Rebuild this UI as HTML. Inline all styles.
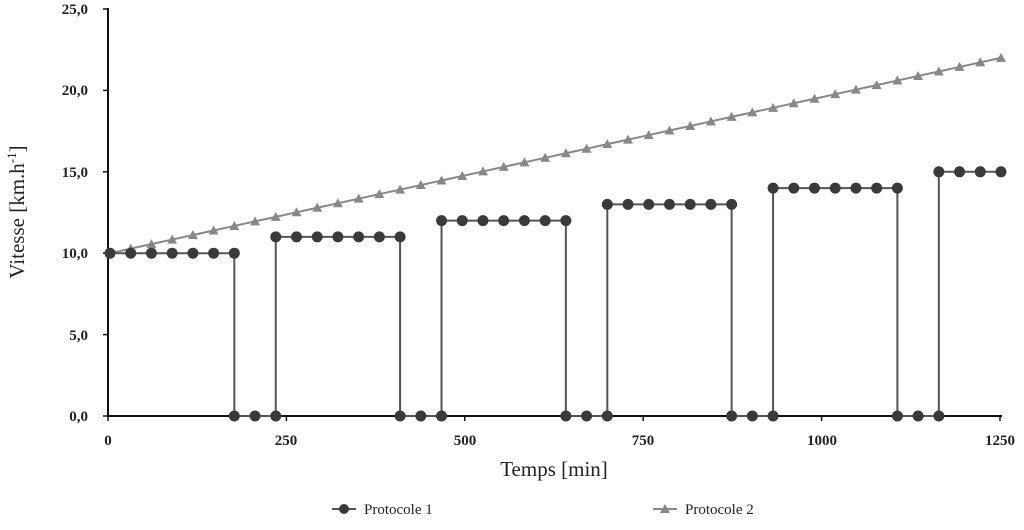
<!DOCTYPE html>
<html><head><meta charset="utf-8"><style>
body{margin:0;background:#fff;}
svg text{font-family:"Liberation Serif",serif;fill:#222;}
</style></head><body>
<svg id="s" width="1024" height="525" xmlns="http://www.w3.org/2000/svg">
<g font-size="15" font-weight="bold" text-anchor="end">
<text x="88" y="421">0,0</text>
<text x="88" y="340">5,0</text>
<text x="88" y="258">10,0</text>
<text x="88" y="177">15,0</text>
<text x="88" y="95">20,0</text>
<text x="88" y="14">25,0</text>
</g>
<g font-size="15" font-weight="bold" text-anchor="middle">
<text x="108" y="445">0</text>
<text x="286" y="445">250</text>
<text x="465" y="445">500</text>
<text x="643" y="445">750</text>
<text x="822" y="445">1000</text>
<text x="1000" y="445">1250</text>
</g>
<text x="554" y="476" font-size="21" text-anchor="middle">Temps [min]</text>
<text transform="translate(24,212) rotate(-90)" font-size="21" text-anchor="middle">Vitesse [km.h<tspan dy="-8" font-size="13">-1</tspan><tspan dy="8">]</tspan></text>
<line x1="108" y1="8" x2="108" y2="416" stroke="#111" stroke-width="2"/>
<line x1="107" y1="416" x2="1002" y2="416" stroke="#111" stroke-width="2"/>
<g id="ticks" stroke="#111" stroke-width="1.5"></g>
<g id="p2"></g>
<g id="p1"></g>
<g font-size="15">
<line x1="332" y1="509" x2="356" y2="509" stroke="#555" stroke-width="2"/>
<circle cx="344" cy="509" r="5" fill="#3a3a3a"/>
<text x="364" y="514">Protocole 1</text>
<line x1="653" y1="509" x2="677" y2="509" stroke="#888" stroke-width="2"/>
<polygon points="665,504 670,513 660,513" fill="#888"/>
<text x="685" y="514">Protocole 2</text>
</g>
</svg>
<script>
var NS="http://www.w3.org/2000/svg";
function el(p,t,a){var e=document.createElementNS(NS,t);for(var k in a)e.setAttribute(k,a[k]);document.getElementById(p).appendChild(e);}
for(var i=0;i<=5;i++){var x=108+i*178.4;el("ticks","line",{x1:x,y1:416,x2:x,y2:421});}
for(var i=0;i<=5;i++){var y=416-i*81.4;el("ticks","line",{x1:103,y1:y,x2:108,y2:y});}
function Y(v){return 416-v*16.28;}
// protocol 2
var pts=[];for(var i=0;i<=43;i++){var x=110+i*891/43,v=10+12*i/43;pts.push([x,Y(v)]);}
el("p2","polyline",{points:pts.map(p=>p.join(",")).join(" "),fill:"none",stroke:"#888","stroke-width":2});
pts.forEach(p=>el("p2","polygon",{points:(p[0])+","+(p[1]-5)+" "+(p[0]+5)+","+(p[1]+4)+" "+(p[0]-5)+","+(p[1]+4),fill:"#888"}));
// protocol 1
var s=891/43,ps=[];
for(var i=0;i<=43;i++){var c=Math.floor(i/8),r=i%8;var lvl=10+c;ps.push([110+i*s,Y(lvl),Y(0),r]);}
var d="";
for(var i=0;i<=43;i++){var x=110+i*s,c=Math.floor(i/8),r=i%8;
 var pts2=[];
 if(r==0){ if(i>0)pts2.push([x,Y(0)]); pts2.push([x,Y(10+c)]);}
 else if(r<6)pts2.push([x,Y(10+c)]);
 else if(r==6){pts2.push([x,Y(10+c)]);pts2.push([x,Y(0)]);}
 else pts2.push([x,Y(0)]);
 pts2.forEach(p=>{d+=(d?" L":"M")+p[0]+","+p[1];});
}
el("p1","path",{d:d,fill:"none",stroke:"#555","stroke-width":2});
for(var i=0;i<=43;i++){var x=110+i*s,c=Math.floor(i/8),r=i%8;
 if(r==0){ if(i>0)el("p1","circle",{cx:x,cy:Y(0),r:5.5,fill:"#3a3a3a"}); el("p1","circle",{cx:x,cy:Y(10+c),r:5.5,fill:"#3a3a3a"});}
 else if(r<6)el("p1","circle",{cx:x,cy:Y(10+c),r:5.5,fill:"#3a3a3a"});
 else if(r==6){el("p1","circle",{cx:x,cy:Y(10+c),r:5.5,fill:"#3a3a3a"});el("p1","circle",{cx:x,cy:Y(0),r:5.5,fill:"#3a3a3a"});}
 else el("p1","circle",{cx:x,cy:Y(0),r:5.5,fill:"#3a3a3a"});
}
</script>
</body></html>
